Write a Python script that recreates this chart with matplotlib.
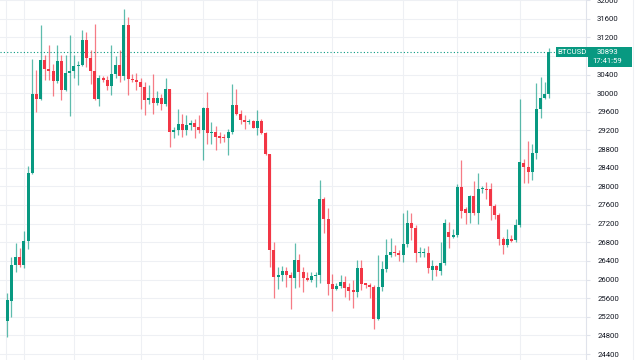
import matplotlib
matplotlib.use("Agg")
import matplotlib.pyplot as plt
import matplotlib.transforms as mtransforms
from matplotlib.patches import Rectangle
import numpy as np

# BTCUSD candles (oldest first)
opens = [25109, 25545, 26310, 26489, 26310, 26832, 28297, 29991, 29870, 30706,
         30528, 30470, 30256, 30685, 30063, 30435, 30470, 30578, 30599, 31149,
         30763, 30477, 29884, 30334, 30292, 30156, 30406, 30613, 30363, 31457,
         30313, 30277, 30234, 30134, 29848, 29906, 29791, 29899, 29777, 30084,
         29169, 29205, 29334, 29205, 29312, 29362, 29277, 29205, 29691, 29148,
         29169, 29076, 29048, 29033, 29169, 29755, 29562, 29420, 29384, 29405,
         29262, 29405, 29155, 28690, 26632, 26045, 26088, 26181, 26095, 26024,
         26417, 26167, 26024, 25988, 26081, 26095, 27718, 27296, 25902, 25788,
         25860, 25952, 25831, 25774, 25738, 26238, 25917, 25888, 25845, 25145,
         25845, 26217, 26524, 26596, 26570, 26524, 26760, 27203, 27111, 26560,
         26560, 26575, 26203, 26288, 26188, 26346, 27025, 26903, 26953, 27990,
         27504, 27418, 27790, 27418, 27933, 27954, 27933, 27575, 27382, 26860,
         26739, 26860, 26846, 27168, 28505, 28405, 28312, 28719, 29670, 29906,
         29977]
highs = [25717, 26474, 26775, 26667, 27039, 28433, 30742, 30492, 31457, 30813,
         31028, 30635, 31028, 30813, 30813, 31257, 30813, 30685, 31364, 31314,
         30921, 31478, 30385, 30363, 30363, 31028, 30792, 30935, 31814, 31636,
         30406, 30435, 30334, 30242, 30170, 30406, 30049, 29991, 30334, 30099,
         29277, 29670, 29548, 29527, 29420, 29455, 29527, 29710, 30027, 29384,
         29291, 29169, 29134, 29241, 30206, 30099, 29634, 29527, 29455, 29420,
         29648, 29455, 29169, 28705, 26810, 26274, 26288, 26274, 26167, 26789,
         26546, 26274, 26167, 26167, 26167, 28133, 27761, 27525, 26117, 25917,
         26095, 26074, 25931, 25988, 26417, 26417, 25931, 25931, 25881, 26524,
         26403, 26860, 26882, 26739, 26632, 27418, 27489, 27418, 27168, 26703,
         26667, 26717, 26417, 26310, 26810, 27289, 27239, 27075, 28047, 28576,
         27561, 27811, 28119, 28290, 28004, 28097, 28076, 27632, 27418, 26903,
         27075, 26953, 27289, 29884, 28597, 28976, 28905, 30220, 30349, 30242,
         30978]
lows = [24759, 25188, 26167, 26260, 26253, 26660, 28276, 29598, 29848, 30277,
        30277, 29934, 30220, 29863, 30049, 29505, 30334, 30170, 30578, 30563,
        30206, 29863, 29720, 30242, 30063, 29956, 30334, 30242, 30292, 29956,
        30242, 30063, 29670, 29527, 29763, 29562, 29741, 29634, 29720, 28848,
        29048, 29098, 29062, 29098, 29205, 29048, 29148, 28576, 28919, 28919,
        28790, 28933, 28955, 28669, 29119, 29527, 29348, 29241, 29348, 29262,
        29098, 29134, 28669, 26274, 25595, 25802, 25967, 25831, 25359, 25810,
        25845, 25738, 25974, 25952, 25845, 25917, 26989, 25667, 25331, 25774,
        25810, 25631, 25559, 25381, 25631, 25774, 25810, 25595, 24930, 25131,
        25760, 26167, 26489, 26503, 26403, 26382, 26703, 26846, 26382, 26489,
        26489, 26131, 25988, 26074, 26095, 26310, 26667, 26882, 26918, 27311,
        27189, 27218, 27382, 27189, 27861, 27718, 27275, 27289, 26739, 26546,
        26703, 26810, 26810, 27118, 28076, 28076, 28133, 28597, 29477, 29884,
        29906]
closes = [25559, 26310, 26489, 26310, 26832, 28297, 29991, 29870, 30706, 30528,
          30470, 30256, 30685, 30063, 30435, 30470, 30578, 30599, 31149, 30763,
          30477, 29884, 30334, 30292, 30156, 30406, 30613, 30363, 31457, 30313,
          30277, 30234, 30134, 29848, 29906, 29791, 29899, 29777, 30084, 29169,
          29205, 29334, 29205, 29312, 29362, 29277, 29219, 29691, 29148, 29169,
          29062, 29048, 29033, 29169, 29755, 29562, 29420, 29384, 29405, 29262,
          29405, 29155, 28690, 26632, 26045, 26088, 26181, 26095, 26024, 26417,
          26167, 26024, 25988, 26081, 26095, 27718, 27296, 25902, 25788, 25860,
          25952, 25810, 25760, 25738, 26238, 25902, 25881, 25831, 25145, 25845,
          26217, 26524, 26596, 26560, 26524, 26760, 27203, 27111, 26560, 26589,
          26589, 26238, 26288, 26203, 26346, 27203, 26903, 26953, 27990, 27475,
          27418, 27790, 27418, 27933, 27954, 27918, 27575, 27382, 26860, 26739,
          26860, 26832, 27168, 28526, 28405, 28312, 28719, 29670, 29906, 29977,
          30893]

symbol = "BTCUSD"
last_time = "17:41:59"
price_ticks = list(range(24400, 32001, 400))
time_grid = [-0.3, 4, 16, 32, 47, 60, 78, 95, 108, 123]  # candle index of date lines

up_col = "#089981"
down_col = "#f23645"
grid_col = "#eef0f4"
text_col = "#131722"

fig = plt.figure(figsize=(6.4, 3.6), dpi=100)
ax = fig.add_axes([0, 0, 586 / 640, 1])

o = np.array(opens)
h = np.array(highs)
l = np.array(lows)
c = np.array(closes)
x = np.arange(len(o))
cols = np.where(c >= o, up_col, down_col)

# wicks then bodies
ax.vlines(x, l, h, colors=cols, linewidth=0.9, alpha=0.65, zorder=3)
body = np.maximum(np.abs(c - o), 22)
ax.bar(x, body, bottom=np.minimum(o, c), width=0.72, color=cols, linewidth=0, zorder=4)

ax.set_xlim(-1.75, 138.9)
ax.set_ylim(24273, 31993)

# grid
for p in price_ticks:
    ax.axhline(p, color=grid_col, linewidth=0.8, zorder=0)
for g in time_grid:
    ax.axvline(g, color=grid_col, linewidth=0.8, zorder=0)

last = closes[-1]
px = 7720 / 360  # price units per pixel

for s in ["top", "left", "bottom"]:
    ax.spines[s].set_visible(False)
ax.spines["right"].set_color("#e0e3eb")
ax.spines["right"].set_linewidth(0.8)
ax.set_xticks([])
ax.yaxis.tick_right()
ax.set_yticks(price_ticks)
# the tick label sitting under the last-price box is hidden, as on the chart
ax.set_yticklabels(["" if last - 16 * px < p < last + 6 * px else str(p)
                    for p in price_ticks])
ax.tick_params(axis="y", length=3, width=0.8, color="#e0e3eb", pad=5,
               labelsize=5.6, labelcolor=text_col)
for t in ax.get_yticklabels():
    t.set_fontfamily("Roboto")

# last price line and labels
bt = mtransforms.blended_transform_factory(fig.transFigure, ax.transData)
ax.hlines(last, -1.75, 136.0, colors=up_col, linestyles=(0, (1, 2)), linewidth=0.8, zorder=2)
fig.add_artist(Rectangle((556 / 640, last - 5 * px), 32 / 640, 10 * px, transform=bt,
                         facecolor=up_col, edgecolor="none"))
fig.add_artist(Rectangle((588 / 640, last - 15 * px), 44 / 640, 20 * px, transform=bt,
                         facecolor=up_col, edgecolor="none"))
fig.text(572 / 640, last, symbol, transform=bt, fontsize=5.6, family="Roboto",
         color="white", ha="center", va="center")
fig.text(597 / 640, last, str(last), transform=bt, fontsize=5.6, family="Roboto",
         color="white", ha="left", va="center")
fig.text(592 / 640, last - 9.5 * px, last_time, transform=bt, fontsize=5.6, family="Roboto",
         color="white", ha="left", va="center")

# right border of the price scale
fig.add_artist(plt.Line2D([633 / 640, 633 / 640], [0, 1], transform=fig.transFigure,
                          color=grid_col, linewidth=0.8))

fig.savefig("out.png", dpi=100)
